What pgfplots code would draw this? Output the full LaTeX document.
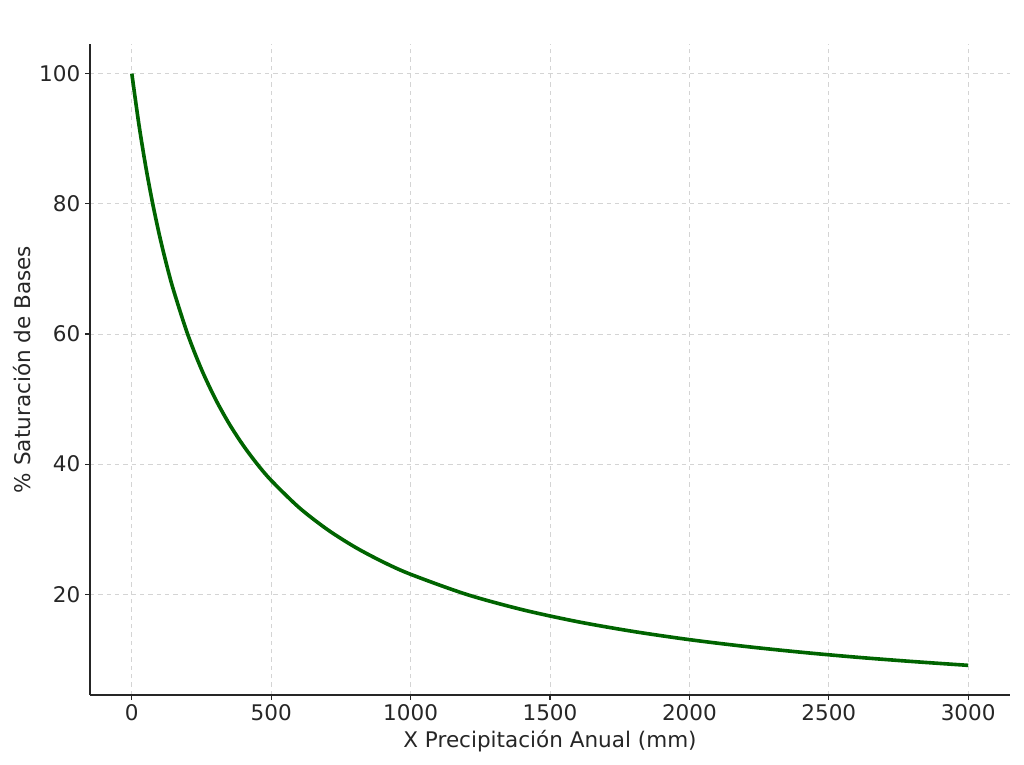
\documentclass[border=0pt]{standalone}
\usepackage{fontspec}
\setmainfont{DejaVu Sans}
\usepackage{pgfplots}
\pgfplotsset{compat=1.18}
\definecolor{curve}{RGB}{0,100,0}
\definecolor{txt}{RGB}{38,38,38}
\begin{document}
\begin{tikzpicture}[x=1pt,y=1pt]
\begin{axis}[
  name=ax,
  scale only axis,
  width=662.4pt, height=468.7pt,
  xmin=-150, xmax=3150, ymin=4.54, ymax=104.55,
  axis x line*=bottom, axis y line*=left,
  axis line style={line width=1pt, txt, -},
  xtick={0,500,1000,1500,2000,2500,3000},
  ytick={20,40,60,80,100},
  tick align=outside, major tick length=3.5pt,
  tick style={line width=0.8pt, txt},
  scaled x ticks=false,
  xticklabel style={/pgf/number format/1000 sep={}},
  /pgf/number format/assume math mode=true,
  ticklabel style={font=\fontsize{15.5}{18}\selectfont, text=txt},
  label style={font=\fontsize{15.5}{18}\selectfont, text=txt},
  xlabel={X Precipitación Anual (mm)},
  ylabel={\% Saturación de Bases},
  ylabel style={yshift=-1pt},
  grid=major,
  major grid style={dashed, line width=0.6pt, color=black!17},
  clip=false,
]
\addplot[curve, line width=2.6pt, smooth] coordinates {
(0,100) (25,92.31) (50,85.71) (75,80.00) (100,75.00) (125,70.59) (150,66.67)
(200,60.00) (250,54.55) (300,50.00) (350,46.15) (400,42.86) (450,40.00)
(500,37.50) (600,33.33) (700,30.00) (800,27.27) (900,25.00) (1000,23.08)
(1200,20.00) (1400,17.65) (1600,15.79) (1800,14.29) (2000,13.04) (2200,12.00)
(2400,11.11) (2600,10.34) (2800,9.68) (3000,9.09)
};
\end{axis}
\path (ax.south west) ++(-64.8pt,-50.4pt) coordinate (bl);
\path (ax.north east) ++(10.08pt,31.68pt) coordinate (tr);
\path (bl) rectangle (tr);
\end{tikzpicture}
\end{document}
